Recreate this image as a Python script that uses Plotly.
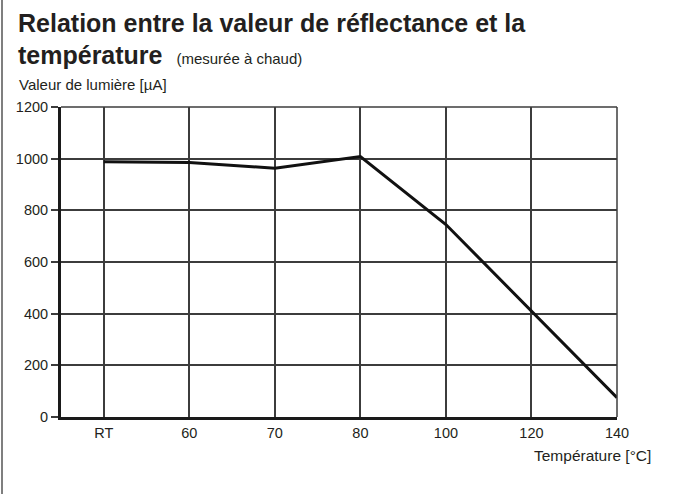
import plotly.graph_objects as go

categories = ["RT", "60", "70", "80", "100", "120", "140"]
light_values = [988, 985, 963, 1008, 745, 410, 75]
y_ticks = [0, 200, 400, 600, 800, 1000, 1200]

TXT = "#231f20"
GRID = "#3c3c3c"
FONT = "Liberation Sans, Arial, Helvetica, sans-serif"

L, R, T, B = 61, 63, 107, 77
W, H = 680, 494
PW, PH = W - L - R, H - T - B

def px_x(x):
    return (x - L) / PW

def px_y(y):
    return (H - B - y) / PH

xpos = list(range(len(categories)))

fig = go.Figure()
fig.add_trace(go.Scatter(
    x=xpos, y=light_values, mode="lines",
    line=dict(color="#111111", width=3),
    hoverinfo="skip", showlegend=False,
))

fig.update_layout(
    width=W, height=H,
    margin=dict(l=L, r=R, t=T, b=B),
    paper_bgcolor="white", plot_bgcolor="white",
    font=dict(family=FONT, size=14, color=TXT),
    xaxis=dict(
        range=[-0.5, 6], tickmode="array", tickvals=xpos, ticktext=categories,
        showgrid=True, gridcolor=GRID, gridwidth=1.5,
        showline=True, linecolor="#1a1a1a", linewidth=3,
        ticks="outside", ticklen=1, tickcolor="rgba(0,0,0,0)",
        zeroline=False, fixedrange=True,
        tickfont=dict(size=14.5, color=TXT),
    ),
    yaxis=dict(
        range=[0, 1200], tickmode="array", tickvals=y_ticks,
        showgrid=True, gridcolor=GRID, gridwidth=1.5,
        showline=True, linecolor="#1a1a1a", linewidth=3,
        ticks="outside", ticklen=7, tickcolor=GRID, tickwidth=1.5,
        zeroline=False, fixedrange=True,
        tickfont=dict(size=14.5, color=TXT),
    ),
)

# right and top frame lines
fig.add_shape(type="line", xref="paper", yref="paper", x0=0, x1=1, y0=1, y1=1,
              line=dict(color=GRID, width=1.5))
fig.add_shape(type="line", xref="paper", yref="paper", x0=1, x1=1, y0=0, y1=1,
              line=dict(color=GRID, width=1.5))
# left page border
fig.add_shape(type="line", xref="paper", yref="paper",
              x0=px_x(2), x1=px_x(2), y0=px_y(H + 5), y1=px_y(-5),
              line=dict(color="#555555", width=1.5))

fig.add_annotation(
    text="<b>Relation entre la valeur de réflectance et la</b>",
    xref="paper", yref="paper", x=px_x(16), y=px_y(23),
    xanchor="left", yanchor="middle", showarrow=False,
    font=dict(family=FONT, size=25, color=TXT),
)
fig.add_annotation(
    text="<b>température</b>&nbsp; <span style='font-size:15px'>(mesurée à chaud)</span>",
    xref="paper", yref="paper", x=px_x(16), y=px_y(55),
    xanchor="left", yanchor="middle", showarrow=False,
    font=dict(family=FONT, size=25, color=TXT),
)
fig.add_annotation(
    text="Valeur de lumière [µA]",
    xref="paper", yref="paper", x=px_x(17), y=px_y(84),
    xanchor="left", yanchor="middle", showarrow=False,
    font=dict(family=FONT, size=15, color=TXT),
)
fig.add_annotation(
    text="Température [°C]",
    xref="paper", yref="paper", x=px_x(653), y=px_y(455),
    xanchor="right", yanchor="middle", showarrow=False,
    font=dict(family=FONT, size=15.5, color=TXT),
)

fig.write_html("out.html", config={"displayModeBar": False},
               post_script="document.body.style.margin='0';")
